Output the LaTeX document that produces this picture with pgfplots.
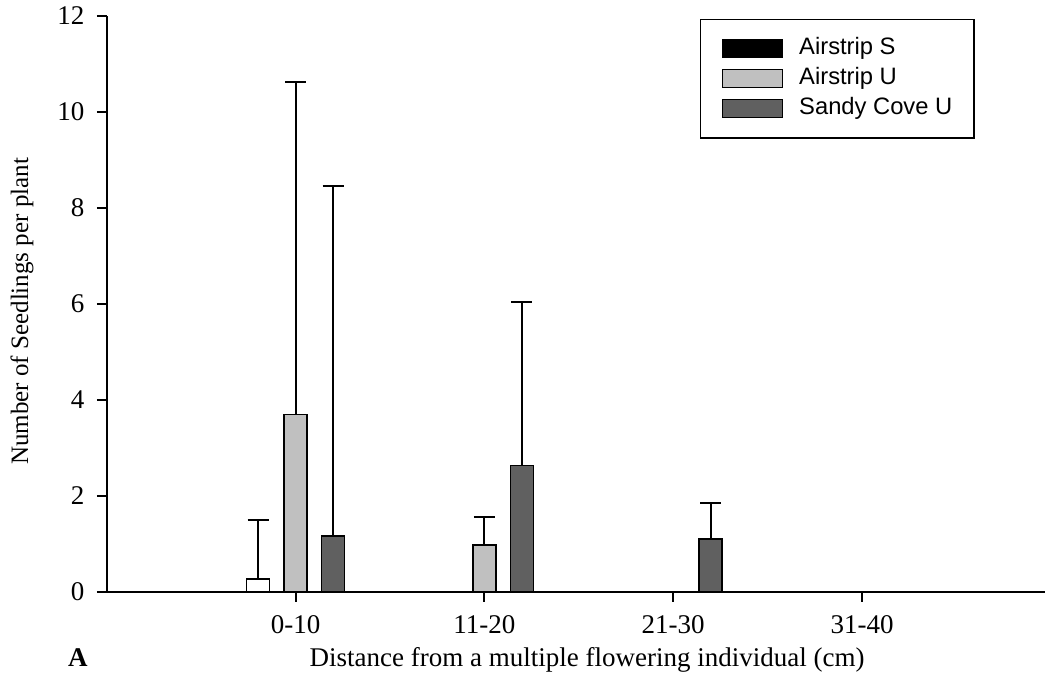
\documentclass[border=0pt]{standalone}
\usepackage{pgfplots}
\pgfplotsset{compat=1.18}
\usepackage{fontspec}
\setmainfont{Liberation Serif}
\newfontfamily\legendfont{Liberation Sans}
\definecolor{lightbar}{RGB}{192,192,192}
\definecolor{darkbar}{RGB}{96,96,96}
\begin{document}
\begin{tikzpicture}
\begin{axis}[
  scale only axis, width=375.3pt, height=230.5pt,
  ybar, bar width=9.2pt,
  xmin=-1, xmax=3.969, ymin=0, ymax=12,
  enlargelimits=false, clip=false,
  axis x line*=bottom, axis y line*=left,
  axis line style={line width=0.8pt},
  xtick={0,1,2,3}, xticklabels={0-10,11-20,21-30,31-40},
  ytick={0,2,...,12},
  tick align=outside, major tick length=3.9pt,
  tick style={line width=0.8pt, black},
  /pgf/number format/assume math mode=true,
  tick label style={font=\fontsize{10.8}{13}\selectfont},
  xticklabel style={anchor=base, yshift=-12.8pt},
  yticklabel style={xshift=-1.5pt},
  xlabel={Distance from a multiple flowering individual (cm)},
  ylabel={Number of Seedlings per plant},
  xlabel style={at={(axis description cs:0.512,0)}, anchor=base, yshift=-29.8pt,
    font=\fontsize{10.8}{13}\selectfont},
  ylabel style={at={(axis description cs:-0.0903,0.487)}, anchor=center},
  legend image code/.code={\draw[#1, line width=0.6pt] (0pt,-3.6pt) rectangle (24pt,3.6pt);},
  legend cell align=left,
  legend style={at={(0.632,0.995)}, anchor=north west, draw=black, line width=0.6pt,
    font=\legendfont\fontsize{9.5}{11}\selectfont,
    inner xsep=8.6pt, inner ysep=7.2pt, row sep=3pt, column sep=6.3pt,
    nodes={inner sep=0pt, text height=7pt, text depth=2pt}},
  error bars/error bar style={line width=0.8pt, black},
  error bars/error mark options={rotate=90, line width=0.8pt, black, mark size=4.2pt},
]
% Airstrip S
\addplot[forget plot, fill=white, draw=black, line width=0.6pt, bar shift=-15pt,
  error bars/.cd, y dir=plus, y explicit]
  coordinates {(0,0.27) +- (0,1.23)};
% Airstrip U
\addplot[forget plot, fill=lightbar, draw=black, line width=0.6pt, bar shift=0pt,
  error bars/.cd, y dir=plus, y explicit]
  coordinates {(0,3.70) +- (0,6.92) (1,0.98) +- (0,0.58)};
% Sandy Cove U
\addplot[forget plot, fill=darkbar, draw=black, line width=0.6pt, bar shift=15pt,
  error bars/.cd, y dir=plus, y explicit]
  coordinates {(0,1.17) +- (0,7.29) (1,2.63) +- (0,3.41) (2,1.10) +- (0,0.76)};
\addlegendimage{fill=black, draw=black}
\addlegendentry{Airstrip S}
\addlegendimage{fill=lightbar, draw=black}
\addlegendentry{Airstrip U}
\addlegendimage{fill=darkbar, draw=black}
\addlegendentry{Sandy Cove U}
\node[anchor=base, font=\bfseries\fontsize{10.8}{13}\selectfont] at (rel axis cs:0,0) [xshift=-11.5pt, yshift=-29.8pt] {A};
\end{axis}
\pgfresetboundingbox
\path[use as bounding box] (-42.7pt,-33.6pt) rectangle (375.3pt,236.8pt);
\end{tikzpicture}
\end{document}
